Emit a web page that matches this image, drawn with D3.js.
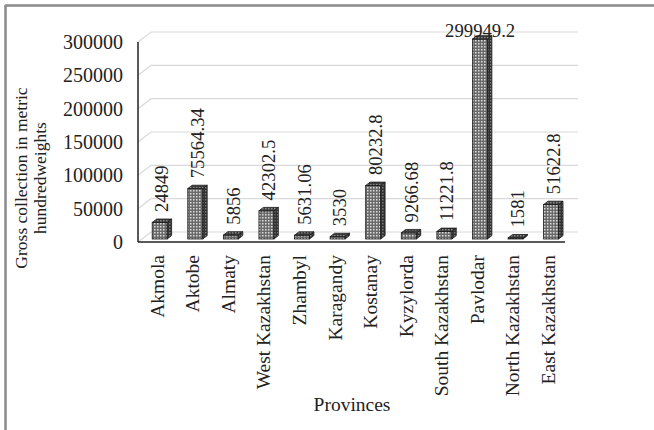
<!DOCTYPE html>
<html>
<head>
<meta charset="utf-8">
<script src="https://cdn.jsdelivr.net/npm/d3@7"></script>
<style>
  body { margin: 0; background: #fff; }
  svg { display: block; font-family: "Liberation Serif", "Times New Roman", serif; }
</style>
</head>
<body>
<svg id="chart" width="654" height="430"></svg>
<script>
var provinces = ["Akmola", "Aktobe", "Almaty", "West Kazakhstan", "Zhambyl", "Karagandy",
  "Kostanay", "Kyzylorda", "South Kazakhstan", "Pavlodar", "North Kazakhstan", "East Kazakhstan"];
var labels = ["24849", "75564.34", "5856", "42302.5", "5631.06", "3530",
  "80232.8", "9266.68", "11221.8", "299949.2", "1581", "51622.8"];
var values = [24849, 75564.34, 5856, 42302.5, 5631.06, 3530,
  80232.8, 9266.68, 11221.8, 299949.2, 1581, 51622.8];
var yTicks = [0, 50000, 100000, 150000, 200000, 250000, 300000];

var svg = d3.select("#chart");

// frame of the picture (only top & left edges show)
svg.append("line").attr("x1", 5).attr("x2", 654).attr("y1", 5.5).attr("y2", 5.5)
  .attr("stroke", "#8a8a8a").attr("stroke-width", 2.5);
svg.append("line").attr("x1", 5.5).attr("x2", 5.5).attr("y1", 5).attr("y2", 430)
  .attr("stroke", "#8a8a8a").attr("stroke-width", 2.5);

var plotLeft = 138, plotRight = 565, plotBase = 242, plotTop = 42;
var depth = {x: 13, y: -10};      // back wall offset
var t0 = 0.3, t1 = 0.64;          // bar depth span

var x = d3.scaleBand().domain(provinces).range([plotLeft, plotRight]);
var y = d3.scaleLinear().domain([0, 300000]).range([plotBase, plotTop]);

var defs = svg.append("defs");
function dots(id, bg, fg) {
  var p = defs.append("pattern").attr("id", id).attr("patternUnits", "userSpaceOnUse")
    .attr("width", 3).attr("height", 3);
  p.append("rect").attr("width", 3).attr("height", 3).attr("fill", bg);
  p.append("rect").attr("x", 1).attr("y", 1).attr("width", 1.5).attr("height", 1.5).attr("fill", fg);
}
dots("front", "#6a6a6a", "#dcdcdc");
dots("side", "#333", "#7a7a7a");
dots("topf", "#3a3a3a", "#8a8a8a");

// gridlines: left wall diagonal + back wall horizontal
var grid = svg.append("g");
yTicks.forEach(function(t) {
  var yy = y(t);
  grid.append("path")
    .attr("d", "M" + plotLeft + "," + yy + "L" + (plotLeft + depth.x) + "," + (yy + depth.y) +
      "L" + (plotRight + depth.x) + "," + (yy + depth.y))
    .attr("fill", "none").attr("stroke", "#d9d9d9").attr("stroke-width", 1.2);
});

// axes
svg.append("line").attr("x1", plotLeft).attr("x2", plotLeft).attr("y1", plotTop).attr("y2", plotBase)
  .attr("stroke", "#222").attr("stroke-width", 1.5);
svg.append("line").attr("x1", plotLeft).attr("x2", plotRight).attr("y1", plotBase).attr("y2", plotBase)
  .attr("stroke", "#222").attr("stroke-width", 1.5);

svg.append("g").selectAll("text").data(yTicks).enter().append("text")
  .attr("x", 123).attr("y", function(d) { return y(d); }).attr("dy", "0.35em")
  .attr("text-anchor", "end").attr("font-size", 20).attr("fill", "#222")
  .text(function(d) { return d; });

// bars
var bw = 15;
var dx = depth.x * (t1 - t0), dy = depth.y * (t1 - t0);
var bars = svg.append("g").selectAll("g").data(values).enter().append("g");
bars.each(function(v, i) {
  var g = d3.select(this);
  var x0 = x(provinces[i]) + x.bandwidth() / 2 - bw / 2 + depth.x * t0;
  var yb = y(0) + depth.y * t0, yt = y(v) + depth.y * t0;
  g.append("rect").attr("x", x0).attr("y", yt).attr("width", bw).attr("height", yb - yt)
    .attr("fill", "url(#front)").attr("stroke", "#1a1a1a").attr("stroke-width", 0.8);
  g.append("path")
    .attr("d", "M" + (x0 + bw) + "," + yt + "L" + (x0 + bw + dx) + "," + (yt + dy) +
      "L" + (x0 + bw + dx) + "," + (yb + dy) + "L" + (x0 + bw) + "," + yb + "Z")
    .attr("fill", "url(#side)").attr("stroke", "#1a1a1a").attr("stroke-width", 0.8);
  g.append("path")
    .attr("d", "M" + x0 + "," + yt + "L" + (x0 + bw) + "," + yt + "L" + (x0 + bw + dx) + "," + (yt + dy) +
      "L" + (x0 + dx) + "," + (yt + dy) + "Z")
    .attr("fill", "url(#topf)").attr("stroke", "#1a1a1a").attr("stroke-width", 0.8);

  var cx = x0 + bw / 2 + dx / 2, ly = yt + dy - 7;
  if (ly - 80 < 10) {
    g.append("text").attr("x", cx - 2).attr("y", yt + dy + 1)
      .attr("text-anchor", "middle").attr("font-size", 18.7).attr("fill", "#222")
      .text(labels[i]);
  } else {
    g.append("text").attr("transform", "translate(" + cx + "," + ly + ") rotate(-90)")
      .attr("dy", "0.35em").attr("font-size", 18.7).attr("fill", "#222")
      .text(labels[i]);
  }
});

// category labels
svg.append("g").selectAll("text").data(provinces).enter().append("text")
  .attr("transform", function(d) { return "translate(" + (x(d) + x.bandwidth() / 2 + 1) + ",255) rotate(-90)"; })
  .attr("dy", "0.35em").attr("text-anchor", "end").attr("font-size", 19.5).attr("fill", "#222")
  .text(function(d) { return d; });

// axis titles
svg.append("text").attr("x", 352).attr("y", 411).attr("text-anchor", "middle")
  .attr("font-size", 19.5).attr("fill", "#222").text("Provinces");

var yTitle = svg.append("text").attr("transform", "translate(33,178) rotate(-90)")
  .attr("text-anchor", "middle").attr("font-size", 17.5).attr("fill", "#222");
yTitle.append("tspan").attr("x", 0).attr("dy", "-0.35em").text("Gross collection in metric");
yTitle.append("tspan").attr("x", 0).attr("dy", "1.1em").text("hundredweights");
</script>
</body>
</html>
